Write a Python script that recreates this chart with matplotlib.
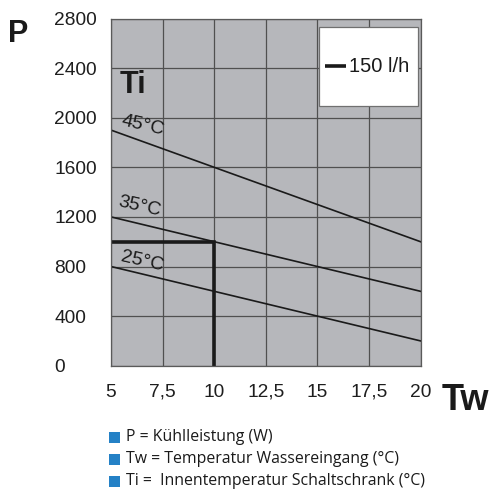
import matplotlib
matplotlib.use("Agg")
import matplotlib.pyplot as plt
from matplotlib.patches import Rectangle

# Data
tw = [5, 20]
p_45 = [1900, 1000]
p_35 = [1200, 600]
p_25 = [800, 200]
curve_labels = ["45°C", "35°C", "25°C"]
label_pos_x = [6.55, 6.4, 6.5]
label_pos_y = [1935, 1285, 840]
op_x = [5, 10, 10]
op_y = [1000, 1000, 0]
x_ticks = [5, 7.5, 10, 12.5, 15, 17.5, 20]
x_ticklabels = ["5", "7,5", "10", "12,5", "15", "17,5", "20"]
y_ticks = [0, 400, 800, 1200, 1600, 2000, 2400, 2800]
legend_lines = ["P = Kühlleistung (W)",
                "Tw = Temperatur Wassereingang (°C)",
                "Ti =  Innentemperatur Schaltschrank (°C)"]

W, H = 494, 493
fig = plt.figure(figsize=(W / 100, H / 100), dpi=100)
fig.patch.set_facecolor("white")
l, r, t, b = 111, 420.5, 18.5, 365.7
ax = fig.add_axes([l / W, 1 - b / H, (r - l) / W, (b - t) / H])
ax.set_facecolor("#b6b7bb")
ax.set_xlim(5, 20)
ax.set_ylim(0, 2800)

ax.set_xticks(x_ticks)
ax.set_xticklabels(x_ticklabels)
ax.set_yticks(y_ticks)
ax.set_yticklabels([str(v) for v in y_ticks])
ax.tick_params(length=0, labelsize=13.8, colors="#1e1e1e")
ax.tick_params(axis="x", pad=13)
ax.tick_params(axis="y", pad=41)
for lab in ax.get_yticklabels():
    lab.set_horizontalalignment("left")
for lab in ax.get_xticklabels() + ax.get_yticklabels():
    lab.set_fontfamily("Liberation Sans")

ax.grid(True, color="#505050", linewidth=0.9)
ax.set_axisbelow(True)
for s in ax.spines.values():
    s.set_color("#5a5a5a")
    s.set_linewidth(0.9)

for ys in (p_45, p_35, p_25):
    ax.plot(tw, ys, color="#1a1a1a", linewidth=1.2)

ax.plot(op_x, op_y, color="#1a1a1a", linewidth=2.6, solid_joinstyle="miter")

for txt, x, y in zip(curve_labels, label_pos_x, label_pos_y):
    ax.text(x, y, txt, rotation=-13, ha="center", va="center", fontsize=14,
            family="Liberation Sans", color="#1a1a1a")

# legend box
ax.add_patch(Rectangle((15.1, 2093), 4.8, 640, facecolor="white",
                       edgecolor="#707070", linewidth=0.9, zorder=3))
ax.plot([15.35, 16.4], [2415, 2415], color="#1a1a1a", linewidth=2.6, zorder=4,
        solid_capstyle="butt")
ax.text(16.55, 2415, "150 l/h", ha="left", va="center", fontsize=14.5,
        family="Liberation Sans", color="#1a1a1a", zorder=4)

# Axis name labels
fig.text(18 / W, 1 - 34 / H, "P", fontsize=22, fontweight="bold",
         family="Liberation Sans", ha="center", va="center", color="#1a1a1a")
fig.text(133 / W, 1 - 85 / H, "Ti", fontsize=22, fontweight="bold",
         family="Liberation Sans", ha="center", va="center", color="#1a1a1a")
fig.text(465 / W, 1 - 401 / H, "Tw", fontsize=26, fontweight="bold",
         family="Liberation Sans", ha="center", va="center", color="#1a1a1a")

# Bottom legend
rows_y = [437, 459, 481]
for txt, yy in zip(legend_lines, rows_y):
    fig.patches.append(Rectangle((109 / W, 1 - (yy + 5.5) / H), 11 / W, 11 / H,
                                 transform=fig.transFigure, facecolor="#2481c6",
                                 edgecolor="none"))
    fig.text(126 / W, 1 - yy / H, txt, fontsize=11.4, family="Open Sans",
             ha="left", va="center", color="#1a1a1a")

fig.savefig("out.png", dpi=100)
